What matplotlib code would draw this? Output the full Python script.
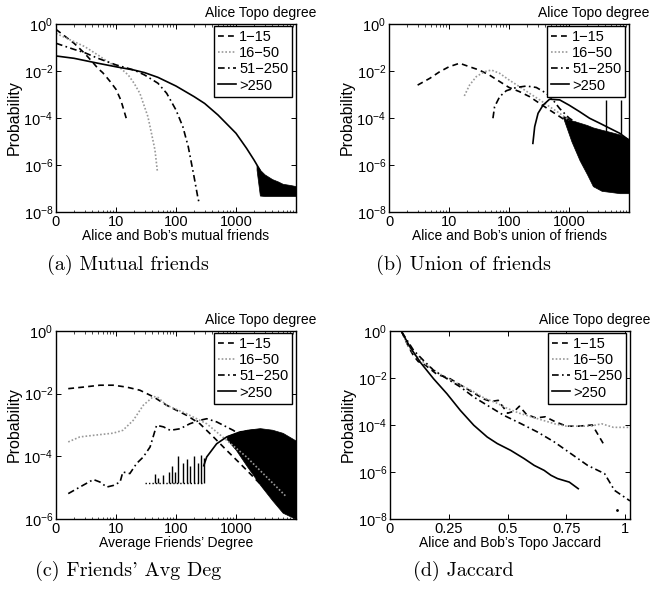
"""Four-panel probability plots by Alice's Topo degree."""

import matplotlib
matplotlib.use("Agg")
import matplotlib.pyplot as plt
import numpy as np

plt.rcParams["font.family"] = ["Liberation Sans", "DejaVu Sans"]
plt.rcParams["mathtext.fontset"] = "custom"
plt.rcParams["mathtext.rm"] = "Liberation Sans"
plt.rcParams["mathtext.it"] = "Liberation Sans:italic"
plt.rcParams["font.size"] = 10

GROUPS = ["1\u221215", "16\u221250", "51\u2212250", ">250"]

# (a) mutual friends -- y values are log10(probability)
a_x_1_15 = [1, 2, 3, 4, 5, 6, 7, 8, 10, 12, 13, 14, 15]
a_y_1_15 = [-0.23, -0.82, -1.25, -1.6, -1.89, -2.07, -2.27, -2.45, -2.78, -3.23, -3.52, -3.8, -4.06]
a_x_16_50 = [1, 2, 3, 5, 8, 12, 16, 20, 25, 34, 39, 44.6, 49]
a_y_16_50 = [-0.4, -0.75, -0.96, -1.32, -1.67, -1.89, -2.17, -2.52, -2.95, -3.94, -4.65, -5.36, -6.28]
a_x_51_250 = [1, 2, 3, 5, 10, 20, 30, 50, 70, 100, 130, 160, 200, 230, 240]
a_y_51_250 = [-0.82, -1.08, -1.22, -1.46, -1.74, -1.96, -2.17, -2.52, -2.95, -3.66, -4.37, -5.22, -6.5, -7.35, -7.56]
a_x_250 = [1, 2, 5, 10, 20, 30, 50, 100, 200, 300, 500, 1000, 1500, 2000, 2500]
a_y_250 = [-1.36, -1.46, -1.67, -1.82, -1.96, -2.07, -2.27, -2.64, -3.09, -3.38, -3.87, -4.65, -5.29, -5.79, -6.21]
a_band_x = [2200, 2500, 3000, 4000, 5000, 6000, 8000, 10000]
a_band_hi = [-6.0, -6.2, -6.4, -6.6, -6.7, -6.8, -6.85, -6.9]
a_band_lo = [-6.2, -7.3, -7.32, -7.32, -7.32, -7.32, -7.32, -7.32]

# (b) union of friends
b_x_1_15 = [3.0, 4.8, 7.0, 10, 15, 22, 32, 47, 70, 100, 150, 220, 325, 475, 700, 1000]
b_y_1_15 = [-2.6, -2.31, -2.03, -1.82, -1.67, -1.82, -1.96, -2.17, -2.45, -2.7, -2.88, -3.09, -3.38, -3.66, -3.94, -4.2]
b_x_16_50 = [18, 22, 28.5, 39, 51, 70, 100, 150, 220, 325, 475, 700, 1000]
b_y_16_50 = [-3.06, -2.6, -2.24, -2.03, -1.96, -2.1, -2.38, -2.67, -2.95, -3.23, -3.52, -3.8, -4.1]
b_x_51_250 = [54, 57.5, 70, 90, 133, 195, 285, 420, 540, 700, 1000, 1500]
b_y_51_250 = [-4.01, -3.52, -3.09, -2.84, -2.7, -2.64, -2.7, -2.95, -3.23, -3.6, -4.0, -4.3]
b_x_250 = [250, 268, 305, 370, 475, 700, 1000, 1500, 2200, 3300, 4800, 7000, 10000]
b_y_250 = [-5.08, -4.37, -3.8, -3.45, -3.2, -3.23, -3.45, -3.73, -4.01, -4.23, -4.44, -4.65, -4.94]
b_band_x = [800, 1100, 1500, 2000, 2500, 3500, 5000, 7000, 10000]
b_band_hi = [-3.9, -4.1, -4.2, -4.3, -4.4, -4.5, -4.6, -4.7, -4.9]
b_band_lo = [-4.0, -5.0, -5.8, -6.4, -6.9, -7.1, -7.15, -7.2, -7.2]
b_spike_x = [4200, 7400]
b_spike_hi = [-3.23, -3.23]
b_spike_lo = [-4.6, -4.7]

# (c) friends' average degree
c_x_1_15 = [1.6, 2.86, 5.4, 9, 15, 25, 42, 70, 102, 150, 250, 420, 700, 1170, 1950, 3240, 5400, 10000]
c_y_1_15 = [-1.84, -1.79, -1.73, -1.73, -1.79, -1.89, -2.1, -2.37, -2.53, -2.69, -2.96, -3.38, -3.81, -4.23, -4.66, -5.09, -5.51, -5.94]
c_x_16_50 = [1.6, 2.5, 4.2, 9, 13, 19.4, 28.5, 42, 50, 70, 150, 325, 700, 1500, 3240, 7000]
c_y_16_50 = [-3.54, -3.38, -3.33, -3.26, -3.17, -2.85, -2.37, -2.09, -2.12, -2.37, -2.64, -2.96, -3.49, -4.02, -4.66, -5.3]
c_x_51_250 = [1.6, 2.5, 4.2, 5.4, 7, 9, 11.7, 13, 17, 22, 28.5, 37, 47.5, 62, 80, 117, 170, 250, 325, 475, 900, 1950, 4200, 10000]
c_y_51_250 = [-5.19, -4.98, -4.74, -4.82, -4.98, -4.93, -4.82, -4.5, -4.55, -4.23, -4.02, -3.7, -3.01, -3.06, -3.17, -3.12, -2.96, -2.85, -2.8, -2.9, -3.17, -3.6, -4.13, -5.09]
c_x_250 = [290, 325, 475, 700, 1170, 1950, 3240, 5400, 10000]
c_y_250 = [-4.3, -4.02, -3.6, -3.38, -3.22, -3.17, -3.22, -3.38, -3.7]
c_low_x = [30, 45, 50, 60, 75, 85, 95, 110, 130, 150, 170, 200, 230, 260, 290]
c_low_hi = [-4.85, -4.55, -4.7, -4.6, -4.5, -4.3, -4.5, -4.0, -4.2, -4.1, -4.3, -4.0, -4.2, -3.95, -4.05]
c_low_base = -4.85
c_band_x = [700, 1000, 1500, 2500, 4000, 6000, 10000]
c_band_hi = [-3.35, -3.25, -3.15, -3.1, -3.15, -3.25, -3.5]
c_band_lo = [-3.45, -3.8, -4.3, -4.9, -5.4, -5.8, -6.0]

# (d) Topo Jaccard
d_x_1_15 = [0.05, 0.08, 0.1, 0.12, 0.15, 0.2, 0.25, 0.3, 0.35, 0.4, 0.43, 0.46, 0.5, 0.53, 0.55, 0.58, 0.62, 0.66, 0.7, 0.75, 0.8, 0.86, 0.91]
d_y_1_15 = [-0.04, -0.7, -1.05, -1.3, -1.45, -1.85, -2.0, -2.3, -2.6, -2.9, -3.0, -2.95, -3.5, -3.4, -3.2, -3.55, -3.7, -3.65, -3.85, -4.05, -4.05, -4.0, -4.85]
d_x_16_50 = [0.05, 0.08, 0.1, 0.15, 0.2, 0.25, 0.3, 0.35, 0.4, 0.45, 0.5, 0.55, 0.6, 0.65, 0.7, 0.75, 0.8, 0.85, 0.9, 0.95, 1.02]
d_y_16_50 = [-0.04, -0.7, -0.95, -1.4, -1.75, -2.05, -2.3, -2.55, -2.85, -3.05, -3.3, -3.5, -3.65, -3.8, -3.95, -4.05, -4.05, -4.05, -3.95, -4.1, -4.1]
d_x_51_250 = [0.05, 0.1, 0.142, 0.185, 0.242, 0.299, 0.356, 0.413, 0.484, 0.556, 0.627, 0.698, 0.769, 0.84, 0.912, 0.954, 1.02]
d_y_51_250 = [-0.04, -0.82, -1.25, -1.67, -2.03, -2.38, -2.81, -3.16, -3.59, -3.94, -4.3, -4.72, -5.22, -5.72, -6.07, -6.78, -7.23]
d_x_250 = [0.05, 0.085, 0.128, 0.185, 0.242, 0.299, 0.356, 0.413, 0.456, 0.513, 0.57, 0.613, 0.655, 0.684, 0.712, 0.762, 0.8]
d_y_250 = [-0.04, -0.68, -1.32, -2.03, -2.67, -3.38, -4.01, -4.51, -4.79, -5.08, -5.43, -5.72, -5.93, -6.14, -6.28, -6.43, -6.71]
d_dot_x = [0.966]
d_dot_y = [-7.63]

XLABELS = [
    "Alice and Bob\u2019s mutual friends",
    "Alice and Bob\u2019s union of friends",
    "Average Friends\u2019 Degree",
    "Alice and Bob\u2019s Topo Jaccard",
]
CAPTIONS = ["(a) Mutual friends", "(b) Union of friends", "(c) Friends' Avg Deg", "(d) Jaccard"]

STYLES = [
    dict(color="black", linestyle=(0, (3.5, 2.5))),
    dict(color="0.6", linestyle=(0, (1, 1.2))),
    dict(color="black", linestyle=(0, (4, 2, 1, 2))),
    dict(color="black", linestyle="-"),
]
LW = 1.2


def pw(v):
    return np.power(10.0, np.asarray(v, dtype=float))


def draw_series(ax, xs, ys):
    handles = []
    for x, y, st in zip(xs, ys, STYLES):
        (h,) = ax.plot(x, pw(y), lw=LW, **st)
        handles.append(h)
    return handles


def style_axes(ax, ylim_exp, xlabel, log_x=True):
    ax.set_yscale("log")
    ax.set_ylim(10.0 ** ylim_exp[0], 10.0 ** ylim_exp[1])
    ax.set_yticks([10.0 ** e for e in range(ylim_exp[0], ylim_exp[1] + 1, 2)])
    ax.yaxis.set_minor_locator(matplotlib.ticker.NullLocator())
    if log_x:
        ax.set_xscale("log")
        ax.set_xlim(1, 1e4)
        ax.set_xticks([1, 10, 100, 1000])
        ax.set_xticklabels(["0", "10", "100", "1000"])
    ax.tick_params(which="both", direction="in", top=True, right=True, labelsize=10.5, pad=2)
    ax.tick_params(which="major", length=3.5, width=0.7)
    ax.tick_params(which="minor", length=1.8, width=0.5)
    ax.set_xlabel(xlabel, fontsize=10, labelpad=0)
    ax.set_ylabel("Probability", fontsize=11.5, labelpad=1)
    for s in ax.spines.values():
        s.set_linewidth(1.0)


def add_legend(ax, handles):
    leg = ax.legend(handles, GROUPS, loc="upper right", bbox_to_anchor=(0.985, 0.99),
                    borderaxespad=0, fancybox=False, edgecolor="black", framealpha=1,
                    fontsize=10.5, handlelength=1.25, handletextpad=0.2, labelspacing=0.15,
                    borderpad=0.28)
    leg.get_frame().set_linewidth(1.0)
    ax.text(1.085, 1.02, "Alice Topo degree", transform=ax.transAxes, ha="right", va="bottom",
            fontsize=10)


fig = plt.figure(figsize=(6.5, 5.91), dpi=100)
W, H = 650.0, 591.0
boxes = [(56, 24), (389, 24), (56, 331), (390, 331)]
axes = []
for x0, y0 in boxes:
    axes.append(fig.add_axes([x0 / W, 1 - (y0 + 188) / H, 240 / W, 188 / H]))

# (a)
ax = axes[0]
h = draw_series(ax, [a_x_1_15, a_x_16_50, a_x_51_250, a_x_250], [a_y_1_15, a_y_16_50, a_y_51_250, a_y_250])
ax.fill_between(a_band_x, pw(a_band_lo), pw(a_band_hi), color="black", lw=0.5)
style_axes(ax, (-8, 0), XLABELS[0])
add_legend(ax, h)

# (b)
ax = axes[1]
h = draw_series(ax, [b_x_1_15, b_x_16_50, b_x_51_250, b_x_250], [b_y_1_15, b_y_16_50, b_y_51_250, b_y_250])
ax.fill_between(b_band_x, pw(b_band_lo), pw(b_band_hi), color="black", lw=0.5)
ax.vlines(b_spike_x, pw(b_spike_lo), pw(b_spike_hi), color="black", lw=1.0)
style_axes(ax, (-8, 0), XLABELS[1])
add_legend(ax, h)

# (c)
ax = axes[2]
h = draw_series(ax, [c_x_1_15, c_x_16_50, c_x_51_250, c_x_250], [c_y_1_15, c_y_16_50, c_y_51_250, c_y_250])
ax.fill_between(c_band_x, pw(c_band_lo), pw(c_band_hi), color="black", lw=0.5)
ax.vlines(c_low_x, 10.0 ** c_low_base, pw(c_low_hi), color="black", lw=1.0)
ax.plot(c_low_x, [10.0 ** c_low_base] * len(c_low_x), color="black", lw=1.0, linestyle=(0, (1, 1.5)))
style_axes(ax, (-6, 0), XLABELS[2])
add_legend(ax, h)

# (d)
ax = axes[3]
h = draw_series(ax, [d_x_1_15, d_x_16_50, d_x_51_250, d_x_250], [d_y_1_15, d_y_16_50, d_y_51_250, d_y_250])
ax.plot(d_dot_x, pw(d_dot_y), "k.", ms=2)
style_axes(ax, (-8, 0), XLABELS[3], log_x=False)
ax.set_xlim(0, 1.02)
ax.set_xticks([0, 0.25, 0.5, 0.75, 1])
ax.set_xticklabels(["0", "0.25", "0.5", "0.75", "1"])
add_legend(ax, h)

cap_pos = [(128, 265), (463, 265), (128, 571), (463, 571)]
for (cx, cy), cap in zip(cap_pos, CAPTIONS):
    fig.text(cx / W, 1 - cy / H, cap, family="cmr10", fontsize=14.5, ha="center", va="center")

fig.savefig("out.png", dpi=100)
